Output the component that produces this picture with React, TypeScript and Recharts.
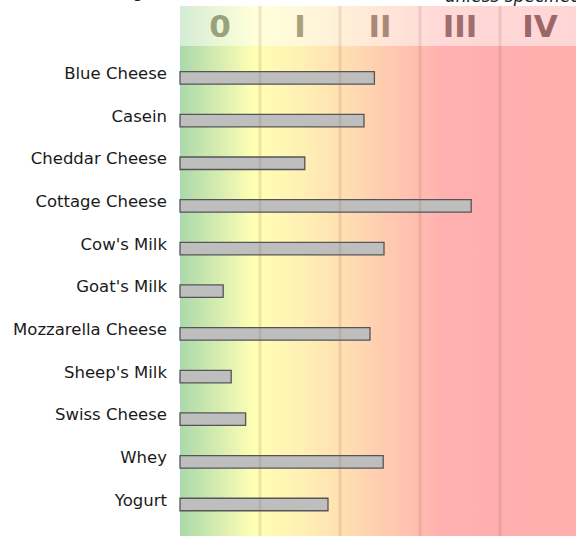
import React from 'react';
import { BarChart, Bar, XAxis, YAxis, ReferenceArea, ReferenceLine } from 'recharts';

const categories = [
  'Blue Cheese',
  'Casein',
  'Cheddar Cheese',
  'Cottage Cheese',
  "Cow's Milk",
  "Goat's Milk",
  'Mozzarella Cheese',
  "Sheep's Milk",
  'Swiss Cheese',
  'Whey',
  'Yogurt',
];
const values = [2.43, 2.3, 1.56, 3.64, 2.55, 0.54, 2.375, 0.64, 0.82, 2.54, 1.85];
const classLabels = ['0', 'I', 'II', 'III', 'IV'];
const classBounds = [0, 1, 2, 3, 4, 5];
const classDividers = [1, 2, 3, 4];
const classLabelColors = ['#99a27a', '#aba07c', '#a88a78', '#a06e6e', '#9c6767'];

const data = categories.map((name, i) => ({ name, value: values[i] }));

const FONT = "'DejaVu Sans', Verdana, sans-serif";
const HEADER_H = 40;

const CatTick = (props: any) => {
  const { x, y, payload } = props;
  return (
    <text x={x} y={y + 1} textAnchor="end" fontSize={16.5} fill="#1a1a1a" fontFamily={FONT}>
      {payload.value}
    </text>
  );
};

const makeHeader = (label: string, color: string) => (p: any) => {
  const { x, y, width } = p;
  return (
    <g>
      <rect x={x} y={y} width={width} height={HEADER_H} fill="#ffffff" fillOpacity={0.5} />
      <text
        x={x + width / 2}
        y={y + HEADER_H / 2 + 11}
        textAnchor="middle"
        fontSize={31}
        fontWeight="bold"
        fill={color}
        fontFamily={FONT}
      >
        {label}
      </text>
    </g>
  );
};

export default function App() {
  return (
    <div
      style={{
        position: 'absolute',
        left: 0,
        top: 0,
        width: 576,
        height: 536,
        overflow: 'hidden',
        background: '#fff',
      }}
    >
      <BarChart
        layout="vertical"
        width={580}
        height={560}
        data={data}
        margin={{ top: 6, right: 0, bottom: 0, left: 0 }}
        style={{ fontFamily: FONT }}
      >
        <defs>
          <linearGradient id="bgGrad" x1="0" y1="0" x2="1" y2="0">
            <stop offset="0" stopColor="#aad9ab" />
            <stop offset="0.185" stopColor="#ffffb4" />
            <stop offset="0.3" stopColor="#fff1b4" />
            <stop offset="0.4" stopColor="#ffe1b2" />
            <stop offset="0.5" stopColor="#ffcdb0" />
            <stop offset="0.6" stopColor="#ffbcb0" />
            <stop offset="0.66" stopColor="#ffb0b0" />
            <stop offset="1" stopColor="#ffadad" />
          </linearGradient>
        </defs>
        <XAxis type="number" domain={[0, 5]} hide />
        <YAxis
          type="category"
          dataKey="name"
          width={180}
          axisLine={false}
          tickLine={false}
          tickMargin={7}
          interval={0}
          padding={{ top: 50.7, bottom: 34.1 }}
          tick={<CatTick />}
        />
        <YAxis yAxisId="bg" type="category" hide />
        <ReferenceArea
          x1={0}
          x2={5}
          yAxisId="bg"
          fill="url(#bgGrad)"
          fillOpacity={1}
          stroke="none"
          ifOverflow="visible"
        />
        {classLabels.map((lab, i) => (
          <ReferenceArea
            key={lab}
            x1={classBounds[i]}
            x2={classBounds[i + 1]}
            yAxisId="bg"
            ifOverflow="visible"
            shape={makeHeader(lab, classLabelColors[i])}
          />
        ))}
        {classDividers.map((v) => (
          <ReferenceLine
            key={v}
            x={v}
            yAxisId="bg"
            stroke="#8a5a3a"
            strokeOpacity={0.15}
            strokeWidth={3}
            ifOverflow="visible"
          />
        ))}
        <Bar
          dataKey="value"
          fill="#bebebe"
          stroke="#555555"
          strokeWidth={1.3}
          barSize={12.5}
          isAnimationActive={false}
        />
      </BarChart>
      <svg
        width={576}
        height={20}
        style={{ position: 'absolute', left: 0, top: 0, pointerEvents: 'none' }}
      >
        <text x={143} y={-2} textAnchor="end" fontSize={16} fill="#222" fontFamily={FONT}>
          mg
        </text>
        <text x={445} y={2} fontSize={17} fontStyle="italic" fill="#222" fontFamily={FONT}>
          unless specified
        </text>
      </svg>
    </div>
  );
}
